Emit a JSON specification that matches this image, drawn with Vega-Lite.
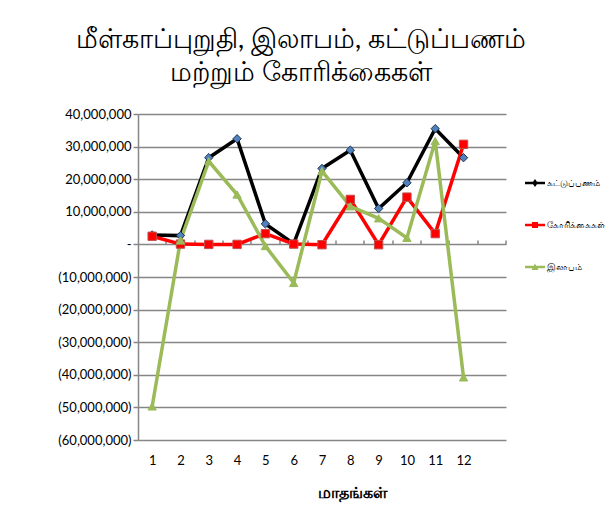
{
  "$schema": "https://vega.github.io/schema/vega-lite/v6.json",
  "width": 368,
  "height": 326,
  "autosize": "none",
  "padding": {"left": 138, "top": 114, "right": 105, "bottom": 72},
  "background": "white",
  "config": {"view": {"stroke": null}, "font": "Lato"},
  "title": {
    "text": ["மீள்காப்புறுதி,  இலாபம்,  கட்டுப்பணம்", "மற்றும்  கோரிக்கைகள்"],
    "fontSize": 27,
    "fontWeight": "normal",
    "lineHeight": 33,
    "anchor": "middle",
    "frame": "group",
    "dx": -21,
    "offset": 21,
    "color": "black"
  },
  "data": {
    "values": [
      {"month": 1, "series": "கட்டுப்பணம்", "value": 2900000},
      {"month": 2, "series": "கட்டுப்பணம்", "value": 2700000},
      {"month": 3, "series": "கட்டுப்பணம்", "value": 26600000},
      {"month": 4, "series": "கட்டுப்பணம்", "value": 32400000},
      {"month": 5, "series": "கட்டுப்பணம்", "value": 6300000},
      {"month": 6, "series": "கட்டுப்பணம்", "value": 200000},
      {"month": 7, "series": "கட்டுப்பணம்", "value": 23300000},
      {"month": 8, "series": "கட்டுப்பணம்", "value": 28900000},
      {"month": 9, "series": "கட்டுப்பணம்", "value": 11000000},
      {"month": 10, "series": "கட்டுப்பணம்", "value": 18900000},
      {"month": 11, "series": "கட்டுப்பணம்", "value": 35500000},
      {"month": 12, "series": "கட்டுப்பணம்", "value": 26600000},
      {"month": 1, "series": "கோரிக்கைகள்", "value": 2500000},
      {"month": 2, "series": "கோரிக்கைகள்", "value": 100000},
      {"month": 3, "series": "கோரிக்கைகள்", "value": 0},
      {"month": 4, "series": "கோரிக்கைகள்", "value": 0},
      {"month": 5, "series": "கோரிக்கைகள்", "value": 3300000},
      {"month": 6, "series": "கோரிக்கைகள்", "value": 100000},
      {"month": 7, "series": "கோரிக்கைகள்", "value": -100000},
      {"month": 8, "series": "கோரிக்கைகள்", "value": 13800000},
      {"month": 9, "series": "கோரிக்கைகள்", "value": -100000},
      {"month": 10, "series": "கோரிக்கைகள்", "value": 14500000},
      {"month": 11, "series": "கோரிக்கைகள்", "value": 3300000},
      {"month": 12, "series": "கோரிக்கைகள்", "value": 30700000},
      {"month": 1, "series": "இலாபம்", "value": -49700000},
      {"month": 2, "series": "இலாபம்", "value": 1200000},
      {"month": 3, "series": "இலாபம்", "value": 25500000},
      {"month": 4, "series": "இலாபம்", "value": 15300000},
      {"month": 5, "series": "இலாபம்", "value": -500000},
      {"month": 6, "series": "இலாபம்", "value": -11800000},
      {"month": 7, "series": "இலாபம்", "value": 22500000},
      {"month": 8, "series": "இலாபம்", "value": 11700000},
      {"month": 9, "series": "இலாபம்", "value": 8000000},
      {"month": 10, "series": "இலாபம்", "value": 2000000},
      {"month": 11, "series": "இலாபம்", "value": 31700000},
      {"month": 12, "series": "இலாபம்", "value": -40800000}
    ]
  },
  "encoding": {
    "y": {
      "field": "value",
      "type": "quantitative",
      "scale": {"domain": [-60000000, 40000000], "nice": false, "zero": false},
      "axis": {
        "values": [-60000000, -50000000, -40000000, -30000000, -20000000, -10000000, 0, 10000000, 20000000, 30000000, 40000000],
        "labelExpr": "datum.value == 0 ? '-\u00a0\u00a0\u00a0' : (datum.value < 0 ? '(' + format(-datum.value, ',') + ')' : format(datum.value, ',') + '\u00a0')",
        "grid": true,
        "gridColor": "#868686",
        "gridWidth": 1.5,
        "domainColor": "#868686",
        "domainWidth": 1.5,
        "tickColor": "#868686",
        "tickWidth": 1.5,
        "tickSize": 5,
        "labelFontSize": 13,
        "labelColor": "black",
        "labelPadding": 2,
        "title": null
      }
    }
  },
  "layer": [
    {
      "mark": {"type": "line", "strokeWidth": 3.5},
      "encoding": {
        "x": {
          "field": "month",
          "type": "quantitative",
          "scale": {"domain": [0.5, 13.5], "nice": false, "zero": false},
          "axis": {
            "orient": "bottom",
            "values": [1, 2, 3, 4, 5, 6, 7, 8, 9, 10, 11, 12],
            "format": "d",
            "ticks": false,
            "domain": false,
            "grid": false,
            "labelFontSize": 13,
            "labelColor": "black",
            "labelPadding": 14,
            "title": "மாதங்கள்",
            "titleFontSize": 16,
            "titleFontWeight": "bold",
            "titleColor": "black",
            "titleX": 214,
            "titleY": 57,
            "titleBaseline": "alphabetic",
            "titleAnchor": "middle"
          }
        },
        "color": {
          "field": "series",
          "type": "nominal",
          "scale": {"domain": ["கட்டுப்பணம்", "கோரிக்கைகள்", "இலாபம்"], "range": ["#000000", "#FF0000", "#9BBB59"]},
          "legend": null
        }
      }
    },
    {
      "mark": {"type": "point", "filled": true, "opacity": 1, "strokeWidth": 1},
      "encoding": {
        "x": {
          "field": "month",
          "type": "quantitative",
          "axis": {
            "orient": "top",
            "offset": -130.4,
            "values": [1.5, 2.5, 3.5, 4.5, 5.5, 6.5, 7.5, 8.5, 9.5, 10.5, 11.5, 12.5, 13.5],
            "labels": true,
            "labelColor": "transparent",
            "labelFontSize": 1,
            "ticks": true,
            "tickSize": 4,
            "tickColor": "#868686",
            "tickWidth": 1.5,
            "tickOffset": 0,
            "domain": false,
            "grid": false,
            "title": null,
            "translate": 0
          }
        },
        "shape": {
          "field": "series",
          "type": "nominal",
          "scale": {"domain": ["கட்டுப்பணம்", "கோரிக்கைகள்", "இலாபம்"], "range": ["diamond", "square", "triangle-up"]},
          "legend": null
        },
        "fill": {
          "field": "series",
          "type": "nominal",
          "scale": {"domain": ["கட்டுப்பணம்", "கோரிக்கைகள்", "இலாபம்"], "range": ["#4F81BD", "#FF0000", "#9BBB59"]},
          "legend": null
        },
        "stroke": {
          "field": "series",
          "type": "nominal",
          "scale": {"domain": ["கட்டுப்பணம்", "கோரிக்கைகள்", "இலாபம்"], "range": ["#1F2F4F", "#C0504D", "#9BBB59"]},
          "legend": null
        },
        "size": {"value": 70}
      }
    },
    {
      "mark": {"type": "point", "filled": true, "opacity": 0},
      "encoding": {
        "x": {"field": "month", "type": "quantitative", "axis": null},
        "shape": {
          "field": "series",
          "type": "nominal",
          "scale": {
            "domain": ["கட்டுப்பணம்", "கோரிக்கைகள்", "இலாபம்"],
            "range": [
              "M-1,-0.12H1V0.12H-1Z M0,-0.4L0.28,0L0,0.4L-0.28,0Z",
              "M-1,-0.12H1V0.12H-1Z M-0.3,-0.3H0.3V0.3H-0.3Z",
              "M-1,-0.12H1V0.12H-1Z M0,-0.35L0.35,0.3H-0.35Z"
            ]
          },
          "legend": {
            "orient": "none",
            "legendX": 387,
            "legendY": 59,
            "title": null,
            "symbolOpacity": 1,
            "symbolSize": 400,
            "symbolStrokeWidth": 0,
            "labelFontSize": 9,
            "labelColor": "black",
            "labelOffset": 2,
            "rowPadding": 27,
            "labelLimit": 120
          }
        },
        "fill": {
          "field": "series",
          "type": "nominal",
          "scale": {"domain": ["கட்டுப்பணம்", "கோரிக்கைகள்", "இலாபம்"], "range": ["#000000", "#FF0000", "#9BBB59"]},
          "legend": {
            "orient": "none",
            "legendX": 387,
            "legendY": 59,
            "title": null,
            "symbolOpacity": 1,
            "symbolSize": 400,
            "symbolStrokeWidth": 0,
            "labelFontSize": 9,
            "labelColor": "black",
            "labelOffset": 2,
            "rowPadding": 27,
            "labelLimit": 120
          }
        }
      }
    }
  ],
  "resolve": {
    "scale": {"shape": "independent", "fill": "independent", "stroke": "independent"},
    "axis": {"x": "independent"}
  }
}
